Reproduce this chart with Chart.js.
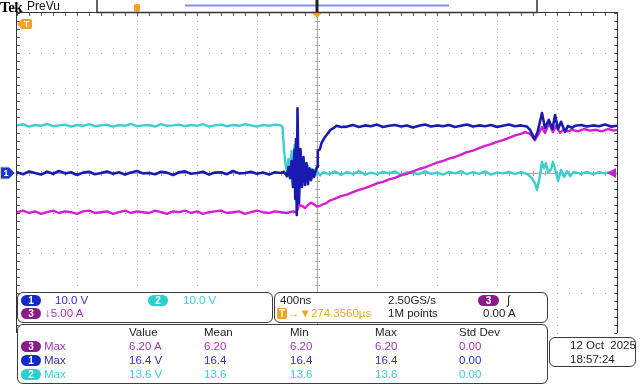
<!DOCTYPE html>
<html>
<head>
<meta charset="utf-8">
<script src="https://cdn.jsdelivr.net/npm/chart.js@4"></script>
<style>
  body { margin: 0; background: #fff; }
  #scope { position: relative; width: 640px; height: 384px; overflow: hidden; background: #fff; }
  #scope canvas { position: absolute; left: 0; top: 0; }
  .txt { position: absolute; font: 11.5px "Liberation Sans", Arial, sans-serif; line-height: 14px; white-space: nowrap; color: #222; }
  .badge { position: absolute; width: 20px; height: 11px; border-radius: 6px; color: #fff; font: bold 10px "Liberation Sans", Arial, sans-serif; line-height: 11px; text-align: center; }
  .box { position: absolute; border: 1px solid #3c3c3c; border-radius: 6px; background: #fff; box-sizing: border-box; }
  .c1 { color: #2c2ce0; } .c2 { color: #30d4d4; } .c3 { color: #b034b8; } .or { color: #f0a030; }
  .b1 { background: #1428cc; } .b2 { background: #2ccfcf; } .b3 { background: #8a1c8a; } .bo { background: #f3a024; }
</style>
</head>
<body>
<div id="scope">
  <canvas id="c" width="640" height="384"></canvas>

  <!-- header -->
  <div class="txt" style="left:0;top:-1px;font:bold 15px 'Liberation Serif',serif;color:#000;letter-spacing:-0.5px">Tek</div>
  <div class="txt" style="left:27px;top:-1px;font-size:12px;color:#111">PreVu</div>

  <!-- channel / timebase panels -->
  <div class="box" style="left:17px;top:292px;width:256px;height:31px"></div>
  <div class="badge b1" style="left:21px;top:295px">1</div>
  <div class="txt c1" style="left:55px;top:293px">10.0 V</div>
  <div class="badge b2" style="left:148px;top:295px">2</div>
  <div class="txt c2" style="left:183px;top:293px">10.0 V</div>
  <div class="badge b3" style="left:21px;top:308px">3</div>
  <div class="txt c3" style="left:45px;top:306px">↓5.00 A</div>

  <div class="box" style="left:274px;top:292px;width:274px;height:31px"></div>
  <div class="txt" style="left:280px;top:293px">400ns</div>
  <div class="txt" style="left:388px;top:293px">2.50GS/s</div>
  <div class="badge b3" style="left:478px;top:295px;width:21px">3</div>
  <div class="txt" style="left:507px;top:293px">∫</div>
  <div class="badge bo" style="left:277px;top:308px;width:10px;border-radius:2px">T</div>
  <div class="txt or" style="left:288px;top:306px">→▼274.3560µs</div>
  <div class="txt" style="left:388px;top:306px">1M points</div>
  <div class="txt" style="left:483px;top:306px">0.00 A</div>

  <!-- measurements -->
  <div class="box" style="left:17px;top:324px;width:531px;height:60px"></div>
  <div class="txt" style="left:129px;top:325px">Value</div>
  <div class="txt" style="left:204px;top:325px">Mean</div>
  <div class="txt" style="left:290px;top:325px">Min</div>
  <div class="txt" style="left:375px;top:325px">Max</div>
  <div class="txt" style="left:459px;top:325px">Std Dev</div>

  <div class="badge b3" style="left:21px;top:341px">3</div>
  <div class="txt c3" style="left:44px;top:339px">Max</div>
  <div class="txt c3" style="left:129px;top:339px">6.20 A</div>
  <div class="txt c3" style="left:204px;top:339px">6.20</div>
  <div class="txt c3" style="left:290px;top:339px">6.20</div>
  <div class="txt c3" style="left:375px;top:339px">6.20</div>
  <div class="txt c3" style="left:459px;top:339px">0.00</div>

  <div class="badge b1" style="left:21px;top:355px">1</div>
  <div class="txt c1" style="left:44px;top:353px">Max</div>
  <div class="txt c1" style="left:129px;top:353px">16.4 V</div>
  <div class="txt c1" style="left:204px;top:353px">16.4</div>
  <div class="txt c1" style="left:290px;top:353px">16.4</div>
  <div class="txt c1" style="left:375px;top:353px">16.4</div>
  <div class="txt c1" style="left:459px;top:353px">0.00</div>

  <div class="badge b2" style="left:21px;top:369px">2</div>
  <div class="txt c2" style="left:44px;top:367px">Max</div>
  <div class="txt c2" style="left:129px;top:367px">13.6 V</div>
  <div class="txt c2" style="left:204px;top:367px">13.6</div>
  <div class="txt c2" style="left:290px;top:367px">13.6</div>
  <div class="txt c2" style="left:375px;top:367px">13.6</div>
  <div class="txt c2" style="left:459px;top:367px">0.00</div>

  <div class="box" style="left:549px;top:337px;width:87px;height:30px"></div>
  <div class="txt" style="left:570px;top:338px">12 Oct&nbsp;&nbsp;2025</div>
  <div class="txt" style="left:570px;top:352px">18:57:24</div>
</div>

<script>
// time in µs relative to trigger (400 ns/div, 10 div)
const timeRange = [-2.0, 2.0];
// channel settings: 10 V/div, 10 V/div, 5 A/div over 8 divisions
const ch1Range = [-40, 40];
const ch2Range = [-40, 40];
const ch3Range = [-20, 20];

// CH1 (V)
const ch1Trace = [
  [-2.00,0.2],[-1.96,-0.3],[-1.92,0.4],[-1.88,0.0],[-1.84,-0.4],[-1.80,0.3],[-1.76,-0.2],[-1.72,0.5],[-1.68,-0.1],[-1.64,0.2],
  [-1.60,-0.5],[-1.56,0.1],[-1.52,0.3],[-1.48,-0.3],[-1.44,0.0],[-1.40,0.4],[-1.36,-0.2],[-1.32,0.2],[-1.28,-0.4],[-1.24,0.1],
  [-1.20,0.5],[-1.16,-0.1],[-1.12,0.0],[-1.08,-0.3],[-1.04,0.3],[-1.00,0.1],[-0.96,-0.5],[-0.92,0.2],[-0.88,0.4],[-0.84,-0.2],
  [-0.80,0.0],[-0.76,0.3],[-0.72,-0.4],[-0.68,0.1],[-0.64,0.2],[-0.60,-0.3],[-0.56,0.5],[-0.52,-0.1],[-0.48,0.0],[-0.44,0.3],
  [-0.40,-0.2],[-0.36,0.1],[-0.32,-0.4],[-0.28,0.2],[-0.24,0.0],
  [-0.22,0.3],[-0.20,-0.8],[-0.19,1.5],[-0.18,-1.2],[-0.17,3.0],[-0.16,-3.5],[-0.15,5.8],[-0.145,-6.5],[-0.14,8.5],[-0.135,-10.5],
  [-0.13,16.2],[-0.125,2.0],[-0.12,-7.5],[-0.11,6.0],[-0.10,-3.5],[-0.09,4.0],[-0.08,-3.0],[-0.07,2.5],[-0.06,-2.8],[-0.05,1.2],
  [-0.04,-1.8],[-0.03,0.8],[-0.02,-1.0],[-0.01,0.4],[0.00,1.5],[0.005,5.5],[0.02,6.0],[0.03,7.5],[0.05,8.8],[0.07,9.8],
  [0.09,10.8],[0.11,11.2],[0.13,11.8],[0.16,11.5],
  [0.20,11.6],[0.24,12.0],[0.28,11.5],[0.32,11.9],[0.36,11.7],[0.40,12.1],[0.44,11.5],[0.48,11.8],[0.52,12.0],[0.56,11.6],
  [0.60,11.9],[0.64,11.4],[0.68,11.8],[0.72,12.1],[0.76,11.6],[0.80,11.9],[0.84,11.7],[0.88,12.0],[0.92,11.5],[0.96,11.8],
  [1.00,12.1],[1.04,11.6],[1.08,11.9],[1.12,11.7],[1.16,12.0],[1.20,11.5],[1.24,11.8],[1.28,12.1],[1.32,11.7],[1.36,11.9],
  [1.40,11.6],
  [1.42,10.8],[1.45,8.5],[1.47,10.2],[1.50,15.0],[1.52,11.2],[1.545,13.3],[1.57,11.0],[1.587,14.5],[1.607,11.0],[1.627,12.8],
  [1.653,10.3],[1.673,11.8],[1.70,11.3],
  [1.72,11.8],[1.76,12.0],[1.80,11.6],[1.84,11.9],[1.88,11.7],[1.92,12.1],[1.96,11.6],[2.00,11.8]
];

// CH2 (V)
const ch2Trace = [
  [-2.00,11.9],[-1.96,12.2],[-1.92,11.6],[-1.88,12.0],[-1.84,11.8],[-1.80,12.3],[-1.76,11.7],[-1.72,11.9],[-1.68,12.1],[-1.64,11.6],
  [-1.60,12.0],[-1.56,11.8],[-1.52,12.2],[-1.48,11.7],[-1.44,11.9],[-1.40,12.1],[-1.36,11.6],[-1.32,12.0],[-1.28,11.8],[-1.24,12.3],
  [-1.20,11.7],[-1.16,11.9],[-1.12,12.0],[-1.08,11.6],[-1.04,12.2],[-1.00,11.8],[-0.96,11.9],[-0.92,12.1],[-0.88,11.7],[-0.84,12.0],
  [-0.80,11.8],[-0.76,12.2],[-0.72,11.6],[-0.68,11.9],[-0.64,12.1],[-0.60,11.7],[-0.56,12.0],[-0.52,11.8],[-0.48,12.2],[-0.44,11.9],
  [-0.40,11.6],[-0.36,12.0],[-0.32,11.8],[-0.28,12.1],[-0.24,11.9],
  [-0.23,11.5],[-0.22,6.0],[-0.21,2.0],[-0.20,0.5],[-0.19,3.5],[-0.18,-1.5],[-0.17,5.5],[-0.16,-3.0],[-0.15,7.0],[-0.14,-0.5],
  [-0.13,4.0],[-0.12,-4.0],[-0.11,1.5],[-0.10,3.5],[-0.09,-2.0],[-0.08,2.0],[-0.07,-1.5],[-0.06,1.8],[-0.05,-0.8],[-0.04,1.0],
  [-0.03,-1.2],[-0.02,0.8],[-0.01,-0.5],[0.00,0.5],[0.02,-0.6],[0.04,0.2],
  [0.08,-0.3],[0.12,0.4],[0.16,-0.5],[0.20,0.2],[0.24,-0.2],[0.28,0.5],[0.32,-0.4],[0.36,0.1],[0.40,-0.3],[0.44,0.3],
  [0.48,-0.1],[0.52,0.4],[0.56,-0.5],[0.60,0.2],[0.64,0.0],[0.68,-0.3],[0.72,0.4],[0.76,-0.2],[0.80,0.1],[0.84,-0.4],
  [0.88,0.3],[0.92,-0.1],[0.96,0.5],[1.00,-0.3],[1.04,0.2],[1.08,-0.2],[1.12,0.4],[1.16,-0.4],[1.20,0.1],[1.24,-0.1],
  [1.28,0.3],[1.32,-0.3],[1.36,0.2],[1.40,-0.2],
  [1.433,-1.3],[1.453,-2.6],[1.467,-4.2],[1.487,-0.5],[1.50,2.8],[1.513,1.2],[1.527,2.5],[1.54,0.2],[1.56,0.8],[1.573,2.8],
  [1.587,1.0],[1.607,-2.0],[1.627,0.8],[1.647,-1.0],[1.667,0.5],[1.687,-0.8],[1.713,0.3],
  [1.76,-0.2],[1.80,0.3],[1.84,-0.3],[1.88,0.2],[1.92,-0.1],[1.96,0.3],[2.00,-0.2]
];

// CH3 (A)
const ch3Trace = [
  [-2.00,-4.9],[-1.96,-4.7],[-1.92,-5.0],[-1.88,-4.8],[-1.84,-5.1],[-1.80,-4.9],[-1.76,-4.7],[-1.72,-5.0],[-1.68,-4.8],[-1.64,-4.9],
  [-1.60,-5.1],[-1.56,-4.8],[-1.52,-4.7],[-1.48,-5.0],[-1.44,-4.9],[-1.40,-4.8],[-1.36,-5.1],[-1.32,-4.9],[-1.28,-4.7],[-1.24,-5.0],
  [-1.20,-4.8],[-1.16,-4.9],[-1.12,-5.0],[-1.08,-4.7],[-1.04,-4.9],[-1.00,-5.1],[-0.96,-4.8],[-0.92,-4.9],[-0.88,-4.7],[-0.84,-5.0],
  [-0.80,-4.8],[-0.76,-5.1],[-0.72,-4.9],[-0.68,-4.8],[-0.64,-4.7],[-0.60,-5.0],[-0.56,-4.9],[-0.52,-4.8],[-0.48,-5.1],[-0.44,-4.9],
  [-0.40,-4.7],[-0.36,-4.9],[-0.32,-5.0],[-0.28,-4.8],[-0.24,-4.9],[-0.20,-5.0],[-0.16,-4.8],
  [-0.14,-4.9],[-0.13,-4.6],[-0.12,-4.0],[-0.10,-4.1],[-0.08,-4.4],[-0.06,-4.0],[-0.04,-3.7],[-0.02,-3.9],[0.00,-4.2],[0.02,-4.1],
  [0.04,-3.9],[0.06,-3.8],[0.08,-3.5],
  [0.12,-3.2],[0.16,-2.9],[0.20,-2.7],[0.24,-2.4],[0.28,-2.1],[0.32,-1.9],[0.36,-1.6],[0.40,-1.3],[0.44,-1.1],[0.48,-0.8],
  [0.52,-0.6],[0.56,-0.3],[0.60,-0.1],[0.64,0.2],[0.68,0.5],[0.72,0.7],[0.76,1.0],[0.80,1.3],[0.84,1.5],[0.88,1.8],
  [0.92,2.0],[0.96,2.3],[1.00,2.6],[1.04,2.8],[1.08,3.1],[1.12,3.4],[1.16,3.6],[1.20,3.9],[1.24,4.1],[1.28,4.4],
  [1.32,4.7],[1.36,4.9],
  [1.387,5.1],[1.42,4.9],[1.453,4.1],[1.473,4.75],[1.50,5.75],[1.52,5.0],[1.547,6.2],[1.573,5.1],[1.593,5.9],[1.62,5.0],
  [1.647,5.5],[1.673,5.2],
  [1.70,5.4],[1.74,5.2],[1.78,5.5],[1.82,5.3],[1.86,5.4],[1.90,5.2],[1.94,5.5],[1.98,5.3],[2.00,5.4]
];

const toPoints = (trace) => trace.map(([x, y]) => ({ x, y }));

// scope graticule: 10 x 8 divisions, 5 minor ticks per division
const graticule = {
  id: 'graticule',
  beforeDatasetsDraw(chart) {
    const { ctx, chartArea: a } = chart;
    const w = a.right - a.left, h = a.bottom - a.top;
    const divX = w / 10, divY = h / 8;
    const cx = a.left + w / 2, cy = a.top + h / 2;
    ctx.save();
    ctx.fillStyle = '#9c9c9c';
    for (let i = 1; i < 10; i++) {
      if (i === 5) continue;
      const x = Math.round(a.left + i * divX);
      for (let j = 0; j <= 40; j++) ctx.fillRect(x, Math.round(a.top + j * divY / 5), 1, 1);
    }
    for (let i = 1; i < 8; i++) {
      if (i === 4) continue;
      const y = Math.round(a.top + i * divY);
      for (let j = 0; j <= 50; j++) ctx.fillRect(Math.round(a.left + j * divX / 5), y, 1, 1);
    }
    // centre cross with ticks
    ctx.fillStyle = '#a8a8a8';
    ctx.fillRect(Math.round(cx), a.top, 1, h);
    ctx.fillRect(a.left, Math.round(cy), w, 1);
    for (let j = 0; j <= 40; j++) ctx.fillRect(Math.round(cx) - 2, Math.round(a.top + j * divY / 5), 5, 1);
    for (let j = 0; j <= 50; j++) ctx.fillRect(Math.round(a.left + j * divX / 5), Math.round(cy) - 2, 1, 5);
    // frame and edge ticks
    ctx.fillStyle = '#555';
    for (let j = 0; j <= 50; j++) ctx.fillRect(Math.round(a.left + j * divX / 5), a.top, 1, 3);
    for (let j = 0; j <= 40; j++) {
      const y = Math.round(a.top + j * divY / 5);
      ctx.fillRect(a.left, y, 3, 1);
      ctx.fillRect(a.right - 3, y, 3, 1);
    }
    ctx.fillStyle = '#333';
    ctx.fillRect(a.left - 1, a.top - 1, w + 2, 1);
    ctx.fillRect(a.left - 1, a.top - 1, 1, h + 1);
    ctx.fillRect(a.right, a.top - 1, 1, h + 1);
    ctx.restore();
  },
  afterDatasetsDraw(chart) {
    const { ctx, chartArea: a, scales } = chart;
    const y0 = scales.y1.getPixelForValue(0);
    const trigX = scales.x.getPixelForValue(0);
    const trigY = scales.y3.getPixelForValue(0);
    ctx.save();
    // record-view bar at the top
    ctx.strokeStyle = '#333';
    ctx.lineWidth = 1.5;
    ctx.strokeRect(97, -2, 440, 14.5);
    ctx.fillStyle = '#8a8af8';
    ctx.fillRect(185, 4.5, 264, 2);
    ctx.fillStyle = '#222';
    ctx.fillRect(trigX - 1.5, 0, 3, 12);
    ctx.fillStyle = '#f3a024';
    ctx.beginPath(); ctx.roundRect(134, 4, 6, 8, 2); ctx.fill();
    // trigger position marker
    ctx.beginPath();
    ctx.moveTo(trigX - 5, a.top); ctx.lineTo(trigX + 5, a.top); ctx.lineTo(trigX, a.top + 5);
    ctx.closePath(); ctx.fill();
    // orange T tag at top-left
    ctx.beginPath();
    ctx.moveTo(a.left, a.top + 11); ctx.lineTo(a.left + 5, a.top + 6); ctx.lineTo(a.left + 13, a.top + 6);
    ctx.quadraticCurveTo(a.left + 15, a.top + 6, a.left + 15, a.top + 8);
    ctx.lineTo(a.left + 15, a.top + 14);
    ctx.quadraticCurveTo(a.left + 15, a.top + 16, a.left + 13, a.top + 16);
    ctx.lineTo(a.left + 5, a.top + 16);
    ctx.closePath(); ctx.fill();
    ctx.fillStyle = '#fff';
    ctx.font = 'bold 9px "Liberation Sans", Arial, sans-serif';
    ctx.textAlign = 'center'; ctx.textBaseline = 'middle';
    ctx.fillText('T', a.left + 9.5, a.top + 11.5);
    // channel 1 ground marker
    ctx.fillStyle = '#1a36d8';
    ctx.strokeStyle = '#d8d890';
    ctx.lineWidth = 1;
    ctx.beginPath();
    ctx.moveTo(0.5, y0 - 6); ctx.lineTo(9, y0 - 6); ctx.lineTo(15, y0); ctx.lineTo(9, y0 + 6); ctx.lineTo(0.5, y0 + 6);
    ctx.closePath(); ctx.fill(); ctx.stroke();
    ctx.fillStyle = '#fff';
    ctx.fillText('1', 6, y0 + 0.5);
    // trigger level marker (ch3)
    ctx.fillStyle = '#c81ec8';
    ctx.beginPath();
    ctx.moveTo(a.right - 1, trigY - 5); ctx.lineTo(a.right - 1, trigY + 5); ctx.lineTo(a.right - 10, trigY);
    ctx.closePath(); ctx.fill();
    ctx.restore();
  }
};

new Chart(document.getElementById('c'), {
  type: 'line',
  data: {
    datasets: [
      { label: 'CH1', data: toPoints(ch1Trace), yAxisID: 'y1', borderColor: '#1a1ab0', borderWidth: 2.6, order: 0 },
      { label: 'CH3', data: toPoints(ch3Trace), yAxisID: 'y3', borderColor: '#d41ed4', borderWidth: 2.4, order: 1 },
      { label: 'CH2', data: toPoints(ch2Trace), yAxisID: 'y2', borderColor: '#3ccfd0', borderWidth: 2.4, order: 2 }
    ]
  },
  options: {
    responsive: false,
    animation: false,
    layout: { padding: { left: 17, top: 13, right: 23, bottom: 51 } },
    elements: {
      line: { tension: 0, borderJoinStyle: 'round' },
      point: { radius: 0, hoverRadius: 0 }
    },
    plugins: { legend: { display: false }, tooltip: { enabled: false } },
    scales: {
      x: { type: 'linear', min: timeRange[0], max: timeRange[1], display: false },
      y1: { min: ch1Range[0], max: ch1Range[1], display: false },
      y2: { min: ch2Range[0], max: ch2Range[1], display: false },
      y3: { min: ch3Range[0], max: ch3Range[1], display: false }
    }
  },
  plugins: [graticule]
});
</script>
</body>
</html>
